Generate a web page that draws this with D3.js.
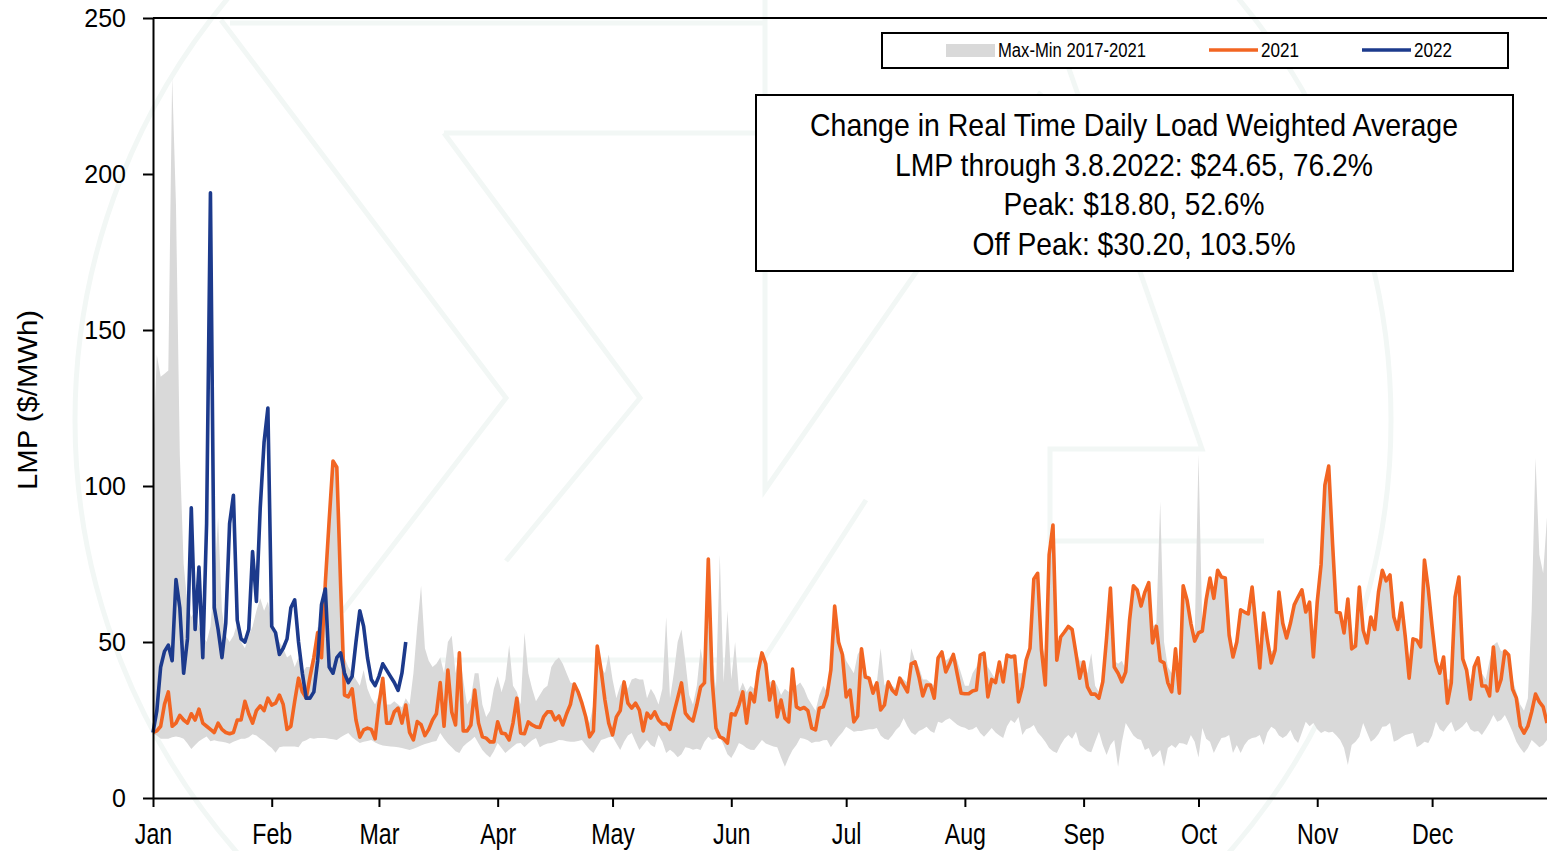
<!DOCTYPE html>
<html>
<head>
<meta charset="utf-8">
<script src="https://cdn.jsdelivr.net/npm/d3@7"></script>
<style>
  body { margin: 0; background: #fff; overflow: hidden; }
  svg { display: block; }
</style>
</head>
<body>
<div id="chart"></div>
<script>
// Daily real time load weighted LMP ($/MWh), one value per day of the year
const lmp2021 = [
  21, 21.5, 23, 30, 34, 23, 24, 26.5, 25, 24,
  27, 25, 28.5, 24, 23, 22, 21, 24, 22, 21,
  20.6, 21, 25, 25, 31, 27, 24, 28, 29.5, 28,
  32, 29.8, 30.4, 33, 30, 22, 23, 31, 38.4, 34,
  32, 38.8, 45, 53, 45, 69, 89, 108, 106, 68,
  33, 32.4, 35, 25, 19.5, 21.8, 22.4, 22, 19, 30,
  38.4, 24, 24, 27.6, 28.8, 24, 29.8, 21, 18.6, 24.5,
  23.5, 20, 22, 25, 27, 37, 23, 41, 27.6, 23.4,
  46.5, 21.5, 21.5, 23.4, 34.6, 24, 19.6, 19.2, 18, 18,
  24.4, 20.8, 20.6, 18.6, 24, 32, 20.8, 20.6, 24.4, 23.4,
  22.8, 22.6, 26, 27.6, 27.6, 25, 26.3, 23.4, 27, 30,
  36.5, 34, 30.4, 26, 19.6, 21.5, 48.7, 41, 31.4, 24,
  20.2, 26, 28, 37.2, 30.4, 28.8, 30.4, 28.2, 21.5, 27.2,
  25.6, 27.6, 25, 23.7, 23.7, 22, 27.2, 32, 36.9, 27.2,
  25.6, 24.7, 29.8, 35.6, 36.9, 76.6, 37.8, 22.4, 19.6, 19,
  17.6, 27, 26.6, 29.8, 34, 24, 33.6, 30.8, 40.4, 46.5,
  43, 31.4, 37.2, 26, 31.4, 25.6, 24.4, 41.3, 29.2, 28.5,
  29, 28, 22.4, 21.8, 28.8, 29.2, 33, 41, 61.5, 50,
  46, 32.4, 34.6, 24.4, 26.3, 47.8, 38.8, 38.4, 33.6, 36.9,
  28.2, 29.8, 37.2, 34.6, 33.3, 38.4, 36.2, 34, 43, 43.6,
  38.8, 32.7, 36.2, 36.2, 32, 44.9, 46.8, 40.4, 43, 46,
  39.7, 33.6, 33.4, 33.4, 34.3, 34.6, 45.8, 46.4, 32.4, 38,
  37, 43.6, 37.2, 45.8, 45.2, 45.5, 30.8, 35.6, 44.2, 48,
  70.2, 72, 47.4, 36.2, 78, 87.5, 44.2, 51.6, 53.2, 55,
  54, 46.4, 38.4, 43.6, 35.6, 33.3, 33.3, 32, 37.2, 51.3,
  67.3, 42, 40, 37.2, 40.4, 57, 68, 66.7, 61.5, 66,
  69, 49.7, 55, 44, 43.3, 36.9, 34, 47.8, 33.6, 68,
  63.5, 56, 50.3, 52.9, 53.5, 63.5, 70.5, 64, 73, 70.8,
  70.5, 52.2, 45.2, 50, 60.3, 59.6, 59, 67.6, 54.8, 41.7,
  59.3, 50.6, 43.3, 47.4, 66, 56, 51.3, 56, 61.9, 64.4,
  66.7, 59.6, 62.8, 45.2, 62.8, 74.7, 100.3, 106.4, 81.7, 59.6,
  59.3, 52.9, 63.8, 47.8, 48.7, 67.6, 53.8, 49.7, 58, 54,
  66, 73, 69.6, 71.5, 58, 54, 62.5, 51.6, 38.4, 51,
  50.6, 48.4, 76.3, 67, 54.8, 43.9, 40, 45.2, 30.4, 36.9,
  64.4, 70.8, 44.6, 41, 31.7, 42, 44.9, 35.9, 35.9, 32.7,
  48.4, 34.3, 38, 47.1, 45.8, 34.9, 32, 23, 20.8, 23,
  27.6, 33.3, 30.8, 29.2, 24
];

// 2022 runs Jan 1 through Mar 8
const lmp2022 = [
  21, 28, 42, 47, 49, 44, 70, 61, 40, 51,
  93, 54, 74, 45, 88, 194, 61, 54, 45, 56,
  88, 97, 57, 51, 50, 54, 79, 63, 93, 114,
  125, 55, 53, 46, 48, 51, 61, 63.5, 50, 40,
  32, 32, 34, 44, 62, 67, 42, 40, 45, 46.5,
  40, 37, 39, 50, 60, 55, 45, 38, 36, 39,
  43, 41, 39, 37, 34.5, 40, 50
];

// Max and min of 2017-2021 for each day
const rangeMax = [
  110, 142, 135, 136, 137, 231, 190, 110, 75, 62,
  58, 60, 55, 52, 50, 55, 70, 90, 60, 52,
  50, 52, 56, 50, 48, 52, 55, 60, 64, 60, 63,
  56, 52, 50, 48, 45, 46, 42, 45, 40, 42,
  42, 47, 55, 50, 70, 89, 108.5, 106.5, 68, 45,
  42, 40, 38, 36, 41, 35, 32, 30, 33, 38.5,
  30, 30, 31, 30, 29, 32, 30, 40, 55, 68,
  48, 44, 42, 43, 45, 40, 50, 52, 40, 47,
  38, 30, 32, 40, 40, 30, 26, 28, 35, 39,
  34, 38, 49, 36, 34, 30, 53, 40, 35, 31,
  33, 35, 36, 42, 44, 45, 43, 40, 37, 36.5,
  34, 31, 27, 24, 30, 49, 42, 40, 46, 38, 32,
  36, 38, 35, 38, 38.5, 38, 38, 32, 35, 33,
  30, 35, 58, 32, 40, 50, 54, 44, 33, 30,
  36, 48, 40, 77, 45, 35, 78, 37, 60, 38,
  50, 34, 37, 34, 36, 35, 41, 47, 43, 37,
  38, 36, 33, 35, 34, 41.5, 36,
  37, 35, 32, 30, 28, 33, 36, 34, 42, 62,
  50, 48, 44, 42, 40, 46, 48, 40, 39, 36,
  37, 48, 36, 38, 36, 35, 39, 38, 37, 48,
  44, 42, 38, 38, 37, 36, 45, 47, 44, 45,
  46.5, 44, 40, 36, 36, 40, 42,
  46, 47, 42, 40, 38, 44, 40, 46, 46, 46,
  40, 40, 45, 48.5, 70.5, 72.5, 50, 45, 78.5, 88,
  46, 52, 54, 55.5, 54.5, 47, 44, 44, 40, 46.4,
  36, 34, 38, 51.5, 67.5, 44, 43, 44, 41, 57.5,
  68.5, 67, 62, 66.5, 69.5, 55, 56,
  95, 50, 42, 40, 48, 40, 68.5, 64, 56.5, 51,
  110, 54, 64, 71, 64.5, 73.5, 71, 71, 53, 47,
  50.5, 60.5, 60, 59.5, 68, 55, 48,
  59.5, 51, 47, 48, 66.5, 56.5, 52, 56.5, 62, 64.5,
  67, 60, 63, 50, 63, 75, 100.5, 106.5, 82, 60,
  59.5, 53, 64, 50, 49, 68, 54, 50, 58, 54.5,
  66, 73.5, 70, 72, 58.5, 54.5, 63, 52, 45, 51.5,
  51, 48.5, 76.5, 67.5, 55, 46, 42, 45.5, 38, 38,
  64.5, 71, 45, 42, 38, 42.5, 45, 40, 38, 44,
  49, 50, 47, 47.5, 46, 38, 34, 30, 28, 32,
  60, 109, 78, 72, 90
];

const rangeMin = [
  20.5, 20, 19, 19, 19, 19.5, 19.7, 19.5, 19, 17.5,
  15.7, 17, 18.2, 19, 19.7, 18.2, 18.5, 18.2, 18, 17.8,
  17.4, 18, 18.5, 19, 19, 19.5, 20.4, 20,
  19, 18.2, 17, 16, 14.5, 16.3, 16.5, 16.5, 16.5, 16.5,
  16.3, 18, 18.5, 19.2, 19, 19.2, 19.2, 19.2, 19, 18.8,
  18.6, 19.5, 20.2, 20.8, 19.5, 18.5, 17.6, 18, 18.3, 18.6,
  17.8, 17.2, 16.8, 16.7, 16.5, 16.4, 16.3, 16, 15.7, 15.4,
  15.8, 16.3, 16.8, 17.3, 17.6, 18, 18.3,
  20.8, 19, 17.5, 16.3, 15, 14.4, 16.5, 17.6, 18.5, 19.6,
  17.5, 15.4, 14, 13, 15, 17.6, 16, 14.4, 15.5, 16.5,
  17.5, 17.6, 16.3, 17.5, 18.5, 19.2, 16.3, 17, 17.5, 17.6,
  18, 18.6, 18.5, 18.2, 18, 18, 18.3, 18.6, 17, 15.5,
  14.4, 16.5, 18.6, 19, 19.5, 19.6, 17.5,
  15.4, 18, 20, 20.8, 18, 15.4, 17, 18.6, 17, 16.3,
  20.2, 18, 14.4, 15.5, 14.5, 13.1, 14, 16.3, 16, 15.5,
  15.8, 15.4, 18, 19.6, 18.6, 19, 19.6, 17, 14, 12.8,
  15, 17.6, 17, 16, 15.5, 15.4, 17, 18.6, 17.5, 17,
  16.5, 16.3, 13, 10, 13, 15.4, 17,
  19.2, 19, 18.5, 17.6, 18, 18, 18.5, 18.6, 16.3, 18,
  19.6, 21, 22.8, 22, 21.2, 21.5, 21.5, 21.8, 22, 22,
  22.4, 20, 19, 18.6, 20, 21.8, 23, 25.6, 23, 21,
  20.2, 21.5, 22, 22.8, 21.5, 20.8, 24.4, 24, 25, 25.6,
  24.5, 23.5, 22.8, 22.5, 21.8, 22, 22.8,
  20.8, 19.6, 21, 22.4, 21, 20, 19.2, 23, 25, 24,
  26, 20.2, 22, 22.5, 23.4, 21, 19.6, 18, 16, 15,
  14.4, 17, 19, 20.2, 19, 21.2, 17, 16, 15, 14.7,
  18, 21.2, 17, 13.8, 17, 18.6, 10, 18, 24, 22,
  20, 19, 18.6, 15.4, 16, 13.1, 14,
  15.4, 10, 16, 17, 16, 17.6, 17.5, 17, 20.2, 18,
  13, 22.4, 19, 18, 14.4, 17, 19.2, 19.5, 20.2, 14.4,
  17, 14.4, 17, 18.6, 19.2, 19.5, 20.2,
  17, 21, 22.8, 22, 20, 19.2, 20, 21.8, 19, 17.6,
  21, 24.4, 23, 24, 22, 20.8, 21.5, 21, 21.2, 20,
  18.6, 16, 10.6, 17, 18, 19.6, 24, 21, 18, 19,
  20.5, 22.8, 23, 24, 18, 18.6, 19.5, 20.2, 20.5, 20.8,
  16.3, 17, 18, 17.6, 20, 24.4, 22, 21.2, 23, 24.4,
  21.2, 22, 23, 24.4, 22, 21.2, 21.5, 20.2, 22, 24,
  26.6, 24.4, 25, 26.6, 24, 21.2, 18, 16, 14.4, 16,
  18.6, 17.5, 16.3, 17, 18.6
];

const monthLabels = ["Jan", "Feb", "Mar", "Apr", "May", "Jun", "Jul", "Aug", "Sep", "Oct", "Nov", "Dec"];
const yTicks = [0, 50, 100, 150, 200, 250];
const legendLabels = ["Max-Min 2017-2021", "2021", "2022"];
const noteLines = [
  "Change in Real Time Daily Load Weighted Average",
  "LMP through 3.8.2022: $24.65, 76.2%",
  "Peak: $18.80, 52.6%",
  "Off Peak: $30.20, 103.5%"
];

const width = 1547;
const height = 851;
const font = "'Liberation Sans', Arial, sans-serif";
const colors = { band: "#d9d9d9", y2021: "#f26522", y2022: "#1c3a8c" };

const svg = d3.select("#chart")
  .append("svg")
  .attr("width", width)
  .attr("height", height);

// faint logo watermark behind the chart
const wm = svg.append("g")
  .attr("fill", "none")
  .attr("stroke", "#f2f7f5")
  .attr("stroke-width", 5);
wm.append("circle").attr("cx", 733).attr("cy", 420).attr("r", 658);
wm.append("path").attr("d", "M230,23 L765,23 M221,20 L506,398 L342,612");
wm.append("path").attr("d", "M444,133 L756,133 M444,133 L640,398 L506,561");
wm.append("path").attr("d", "M765,0 L765,490 L1041,92");
wm.append("path").attr("d", "M1068,66 L1202,449 L1050,449 L1050,541 L1264,541");
wm.append("path").attr("d", "M440,660 L763,660 L866,500");

const start = new Date(2021, 0, 1);
const day = i => d3.timeDay.offset(start, i);

const x = d3.scaleTime()
  .domain([start, day(364)])
  .range([153, 1547]);

const y = d3.scaleLinear()
  .domain([0, 250])
  .range([798, 18]);

// grey max-min band
const band = d3.area()
  .x((d, i) => x(day(i)))
  .y0((d, i) => y(rangeMin[i]))
  .y1(d => y(d));

svg.append("path")
  .datum(rangeMax)
  .attr("fill", colors.band)
  .attr("d", band);

const line = d3.line()
  .x((d, i) => x(day(i)))
  .y(d => y(d));

svg.append("path")
  .datum(lmp2021)
  .attr("fill", "none")
  .attr("stroke", colors.y2021)
  .attr("stroke-width", 3.6)
  .attr("stroke-linejoin", "round")
  .attr("d", line);

svg.append("path")
  .datum(lmp2022)
  .attr("fill", "none")
  .attr("stroke", colors.y2022)
  .attr("stroke-width", 3.6)
  .attr("stroke-linejoin", "round")
  .attr("d", line);

// axes
const yAxis = svg.append("g")
  .attr("transform", "translate(153,0)")
  .call(d3.axisLeft(y).tickValues(yTicks).tickSize(10).tickSizeOuter(0).tickPadding(17));
yAxis.attr("font-family", font).attr("font-size", 25);
yAxis.selectAll("line, path").attr("stroke", "#000").attr("stroke-width", 2);
yAxis.selectAll("text").attr("fill", "#000");

svg.append("line")
  .attr("x1", 153).attr("x2", width)
  .attr("y1", 18).attr("y2", 18)
  .attr("stroke", "#000").attr("stroke-width", 2);

const xAxis = svg.append("g")
  .attr("transform", "translate(0,798)")
  .call(d3.axisBottom(x)
    .ticks(d3.timeMonth.every(1))
    .tickFormat((d, i) => monthLabels[i])
    .tickSize(9)
    .tickSizeOuter(0));
xAxis.attr("font-family", font).attr("font-size", 29);
xAxis.selectAll("line, path").attr("stroke", "#000").attr("stroke-width", 2);
xAxis.selectAll("text")
  .attr("fill", "#000")
  .attr("y", 46)
  .attr("dy", null)
  .attr("transform", "scale(0.8,1)");

svg.append("text")
  .attr("transform", "translate(37,400) rotate(-90)")
  .attr("text-anchor", "middle")
  .attr("font-family", font)
  .attr("font-size", 27)
  .attr("textLength", 180)
  .attr("lengthAdjust", "spacingAndGlyphs")
  .text("LMP ($/MWh)");

// legend
const legend = svg.append("g");
legend.append("rect")
  .attr("x", 882).attr("y", 33)
  .attr("width", 626).attr("height", 35)
  .attr("fill", "#fff").attr("stroke", "#000").attr("stroke-width", 2);
legend.append("rect")
  .attr("x", 946).attr("y", 44)
  .attr("width", 49).attr("height", 13)
  .attr("fill", colors.band);
[[1209, colors.y2021], [1362, colors.y2022]].forEach(([lx, c]) => {
  legend.append("line")
    .attr("x1", lx).attr("x2", lx + 49)
    .attr("y1", 50).attr("y2", 50)
    .attr("stroke", c).attr("stroke-width", 3.6);
});
[[998, 148], [1261, 38], [1414, 38]].forEach(([tx, len], i) => {
  legend.append("text")
    .attr("x", tx).attr("y", 57)
    .attr("font-family", font).attr("font-size", 20)
    .attr("textLength", len).attr("lengthAdjust", "spacingAndGlyphs")
    .text(legendLabels[i]);
});

// note box
const note = svg.append("g");
note.append("rect")
  .attr("x", 756).attr("y", 95)
  .attr("width", 757).attr("height", 176)
  .attr("fill", "#fff").attr("stroke", "#000").attr("stroke-width", 2);
const noteWidths = [648, 478, 261, 323];
noteLines.forEach((t, i) => {
  note.append("text")
    .attr("x", 1134).attr("y", 136 + i * 39.5)
    .attr("text-anchor", "middle")
    .attr("font-family", font).attr("font-size", 32)
    .attr("textLength", noteWidths[i]).attr("lengthAdjust", "spacingAndGlyphs")
    .text(t);
});
</script>
</body>
</html>
